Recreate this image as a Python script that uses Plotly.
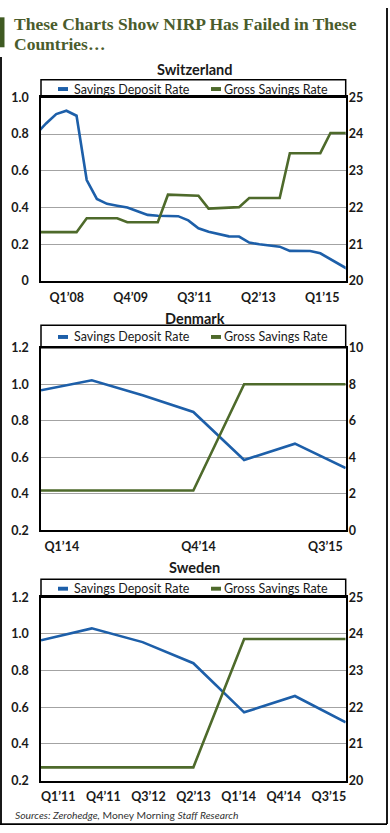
import plotly.graph_objects as go

# ---------------- data ----------------
# Switzerland (quarterly index; first and last points sit just outside the visible range)
ch_period = list(range(32))
ch_deposit = [0.800, 0.858, 0.909, 0.927, 0.900, 0.550, 0.447, 0.420, 0.410, 0.400,
              0.380, 0.360, 0.355, 0.355, 0.353, 0.330, 0.287, 0.268, 0.255, 0.243,
              0.242, 0.209, 0.200, 0.195, 0.187, 0.164, 0.164, 0.163, 0.151, 0.120,
              0.085, 0.055]
ch_gross = [21.33, 21.33, 21.33, 21.33, 21.33, 21.71, 21.71, 21.71, 21.71, 21.60,
            21.60, 21.60, 21.60, 22.35, 22.34, 22.33, 22.32, 21.97, 21.98, 21.99,
            22.01, 22.26, 22.26, 22.26, 22.26, 23.48, 23.48, 23.48, 23.48, 24.03,
            24.03, 24.03]
ch_tick_labels = ["Q1\u201908", "Q4\u201909", "Q3\u201911", "Q2\u201913", "Q1\u201915"]
ch_left_ticks = [0, 0.2, 0.4, 0.6, 0.8, 1.0]
ch_left_labels = ["0", "0.2", "0.4", "0.6", "0.8", "1.0"]
ch_right_ticks = [20, 21, 22, 23, 24, 25]

# Denmark
dk_period = list(range(7))
dk_deposit = [0.967, 1.022, 0.940, 0.848, 0.585, 0.674, 0.540]
dk_gross = [2.17, 2.17, 2.17, 2.17, 8.00, 8.00, 8.00]
dk_tick_labels = ["Q1\u201914", "Q4\u201914", "Q3\u201915"]
dk_left_ticks = [0.2, 0.4, 0.6, 0.8, 1.0, 1.2]
dk_left_labels = ["0.2", "0.4", "0.6", "0.8", "1.0", "1.2"]
dk_right_ticks = [0, 2, 4, 6, 8, 10]

# Sweden
se_period = list(range(7))
se_deposit = [0.965, 1.030, 0.955, 0.840, 0.572, 0.661, 0.518]
se_gross = [20.36, 20.36, 20.36, 20.36, 23.86, 23.86, 23.86]
se_tick_labels = ["Q1\u201911", "Q4\u201911", "Q3\u201912", "Q2\u201913",
                  "Q1\u201914", "Q4\u201914", "Q3\u201915"]
se_left_ticks = [0.2, 0.4, 0.6, 0.8, 1.0, 1.2]
se_left_labels = ["0.2", "0.4", "0.6", "0.8", "1.0", "1.2"]
se_right_ticks = [20, 21, 22, 23, 24, 25]

series_names = ["Savings Deposit Rate", "Gross Savings Rate"]
title_lines = ["These Charts Show NIRP Has Failed in These", "Countries\u2026"]
source_text = ("<i>Sources: Zerohedge,</i> Money Morning <i>Staff Research</i>")

# ---------------- styling / layout ----------------
W, H = 390, 833
BLUE = "#1d5fa9"
GREEN = "#4e6a2b"
TITLE_GREEN = "#4a5c2c"
SANS = "Lato"
SERIF = "Liberation Serif"
INK = "#1a1a1a"


def fx(p):
    return p / W


def fy(p):
    return 1 - p / H


PLOT_L, PLOT_R = 41, 345.7

panels = [
    dict(name="Switzerland", x=ch_period, dep=ch_deposit, gross=ch_gross,
         xr=[0.5, 30.5], tv=[3.03 + 6.29 * k for k in range(5)], tt=ch_tick_labels,
         yl=[0, 1], ylt=ch_left_ticks, yltt=ch_left_labels,
         yr=[20, 25], yrt=ch_right_ticks,
         box_top=73, plot_top=91, plot_bot=278, title_y=63),
    dict(name="Denmark", x=dk_period, dep=dk_deposit, gross=dk_gross,
         xr=[0, 6], tv=[0.41, 3.10, 5.60], tt=dk_tick_labels,
         yl=[0.2, 1.2], ylt=dk_left_ticks, yltt=dk_left_labels,
         yr=[0, 10], yrt=dk_right_ticks,
         box_top=323, plot_top=346, plot_bot=531.7, title_y=316),
    dict(name="Sweden", x=se_period, dep=se_deposit, gross=se_gross,
         xr=[0, 6], tv=[0.34 + 0.888 * k for k in range(7)], tt=se_tick_labels,
         yl=[0.2, 1.2], ylt=se_left_ticks, yltt=se_left_labels,
         yr=[20, 25], yrt=se_right_ticks,
         box_top=581.7, plot_top=600, plot_bot=786.7, title_y=570),
]

fig = go.Figure()
layout = dict(
    width=W, height=H, autosize=False,
    margin=dict(l=0, r=0, t=0, b=0, pad=0),
    paper_bgcolor="white", plot_bgcolor="white",
    showlegend=False,
    font=dict(family=SANS, color=INK),
)
shapes = []
annotations = []

tick_font = dict(family=SANS, size=12.5, color=INK, weight="bold")

for k, p in enumerate(panels):
    xid = "x" if k == 0 else f"x{k + 1}"
    ylid = "y" if k == 0 else f"y{2 * k + 1}"
    yrid = f"y{2 * k + 2}"
    xkey = "xaxis" if k == 0 else f"xaxis{k + 1}"
    ylkey = "yaxis" if k == 0 else f"yaxis{2 * k + 1}"
    yrkey = f"yaxis{2 * k + 2}"

    fig.add_trace(go.Scatter(x=p["x"], y=p["dep"], mode="lines", name=series_names[0],
                             line=dict(color=BLUE, width=2.6), xaxis=xid, yaxis=ylid,
                             hoverinfo="skip"))
    fig.add_trace(go.Scatter(x=p["x"], y=p["gross"], mode="lines", name=series_names[1],
                             line=dict(color=GREEN, width=2.6), xaxis=xid, yaxis=yrid,
                             hoverinfo="skip"))

    layout[xkey] = dict(
        domain=[fx(PLOT_L), fx(PLOT_R)], anchor=ylid, range=p["xr"],
        tickmode="array", tickvals=p["tv"], ticktext=p["tt"], ticks="",
        showgrid=False, zeroline=False, showline=True, mirror=True,
        linecolor="black", linewidth=1.5, tickfont=tick_font, ticklabelstandoff=4,
        fixedrange=True,
    )
    layout[ylkey] = dict(
        domain=[fy(p["plot_bot"]), fy(p["plot_top"])], anchor=xid, range=p["yl"],
        tickmode="array", tickvals=p["ylt"], ticktext=p["yltt"], ticks="",
        showgrid=True, gridcolor="#a3a3a3", gridwidth=1, zeroline=False,
        showline=True, mirror=True, linecolor="black", linewidth=1.5,
        tickfont=tick_font, ticklabelstandoff=8, fixedrange=True,
    )
    layout[yrkey] = dict(
        overlaying=ylid, side="right", anchor=xid, range=p["yr"],
        tickmode="array", tickvals=p["yrt"], ticks="", showgrid=False,
        zeroline=False, showline=False, tickfont=tick_font,
        ticklabelstandoff=2, fixedrange=True,
    )

    # legend box
    shapes.append(dict(type="rect", xref="paper", yref="paper",
                       x0=fx(PLOT_L), x1=fx(PLOT_R), y0=fy(p["plot_top"]), y1=fy(p["box_top"]),
                       line=dict(color="black", width=1.5), fillcolor="white", layer="below"))
    cy = (p["box_top"] + p["plot_top"]) / 2 + 0.5
    for (mx0, tx, col, label) in [(58, 72, BLUE, series_names[0]),
                                  (211, 222, GREEN, series_names[1])]:
        shapes.append(dict(type="rect", xref="paper", yref="paper",
                           x0=fx(mx0), x1=fx(mx0 + 10), y0=fy(cy + 2), y1=fy(cy - 2),
                           line=dict(width=0), fillcolor=col))
        annotations.append(dict(xref="paper", yref="paper", x=fx(tx), y=fy(cy),
                                xanchor="left", yanchor="middle", showarrow=False,
                                text=label, font=dict(family=SANS, size=12.5, color=INK)))
    # panel title
    annotations.append(dict(xref="paper", yref="paper", x=fx(194.5), y=fy(p["title_y"]),
                            xanchor="center", yanchor="middle", showarrow=False,
                            text=p["name"],
                            font=dict(family=SANS, size=14.5, color=INK, weight="bold")))

# main title
annotations.append(dict(xref="paper", yref="paper", x=fx(12), y=fy(16),
                        xanchor="left", yanchor="middle", showarrow=False,
                        text=title_lines[0],
                        font=dict(family=SERIF, size=17.5, color=TITLE_GREEN, weight="bold")))
annotations.append(dict(xref="paper", yref="paper", x=fx(12), y=fy(36.5),
                        xanchor="left", yanchor="middle", showarrow=False,
                        text=title_lines[1],
                        font=dict(family=SERIF, size=17.5, color=TITLE_GREEN, weight="bold")))
# source
annotations.append(dict(xref="paper", yref="paper", x=fx(13), y=fy(821.5),
                        xanchor="left", yanchor="middle", showarrow=False,
                        text=source_text, font=dict(family=SANS, size=10.3, color="#333333")))

# accent bar and outer frame
shapes.append(dict(type="rect", xref="paper", yref="paper", x0=0, x1=fx(4.5),
                   y0=fy(40), y1=fy(9.5), line=dict(width=0), fillcolor="#3f5a22"))
shapes.append(dict(type="line", xref="paper", yref="paper", x0=fx(387), x1=fx(387),
                   y0=fy(0), y1=fy(831), line=dict(color="black", width=1.8)))
shapes.append(dict(type="line", xref="paper", yref="paper", x0=fx(1), x1=fx(1),
                   y0=fy(50), y1=fy(831), line=dict(color="black", width=1.8)))
shapes.append(dict(type="line", xref="paper", yref="paper", x0=fx(0), x1=fx(387),
                   y0=fy(831), y1=fy(831), line=dict(color="black", width=1.8)))

layout["shapes"] = shapes
layout["annotations"] = annotations
fig.update_layout(**layout)

fig.write_html("out.html", config={"displayModeBar": False},
               post_script="document.body.style.margin='0';document.body.style.overflow='hidden';")
